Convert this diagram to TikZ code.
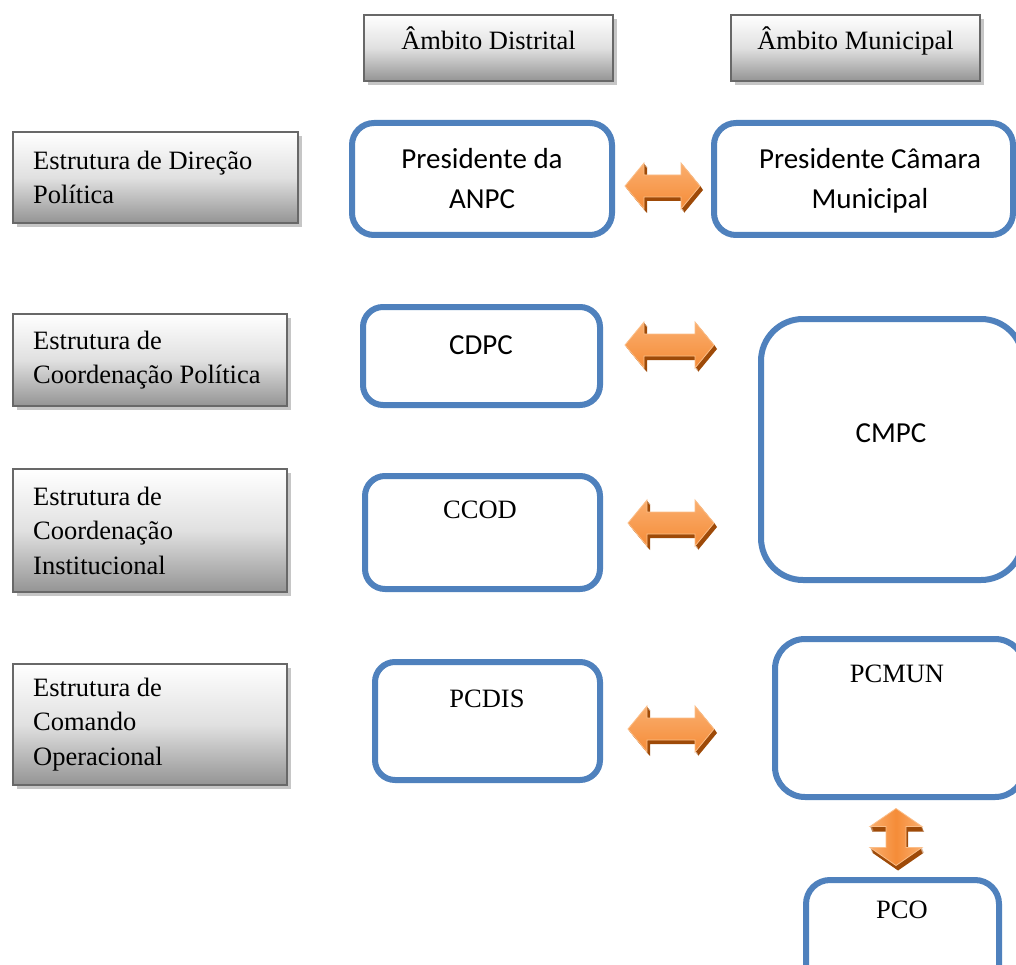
\documentclass[tikz,border=0pt]{standalone}
\usepackage{fontspec}
\setmainfont{Liberation Serif}
\newfontfamily\calib{Carlito}
\usetikzlibrary{shadows}

\definecolor{boxblue}{HTML}{4F81BD}
\definecolor{framegray}{HTML}{686868}
\definecolor{shadowgray}{HTML}{C6C6C6}
\definecolor{arrowlight}{HTML}{FAAE6E}
\definecolor{arrowmain}{HTML}{F58C38}
\definecolor{arrowdark}{HTML}{9E4A08}
\definecolor{arrowrim}{HTML}{FBBE88}

% outline of a double-headed arrow, horizontal and vertical, #1 = half length
\newcommand\hdblpath[1]{(-#1,0) -- (-#1+19,-23) -- (-#1+19,-11) -- (#1-19,-11) -- (#1-19,-23) -- (#1,0) -- (#1-19,23) -- (#1-19,11) -- (-#1+19,11) -- (-#1+19,23) -- cycle}
\newcommand\vdblpath[1]{(0,-#1) -- (26,-#1+18) -- (10,-#1+18) -- (10,#1-18) -- (26,#1-18) -- (0,#1) -- (-26,#1-18) -- (-10,#1-18) -- (-10,-#1+18) -- (-26,-#1+18) -- cycle}

\tikzset{
  x=1pt, y=-1pt,
  graybox/.style={draw=framegray, line width=2pt, anchor=north west,
    inner sep=0pt, outer sep=0pt,
    top color=white, bottom color=black!42, middle color=black!12,
    drop shadow={shadow xshift=4pt, shadow yshift=-4pt, fill=shadowgray, opacity=1}},
  bluebox/.style={draw=boxblue, line width=6pt, anchor=north west,
    inner sep=0pt, outer sep=0pt, fill=white},
  sertext/.style={font=\fontsize{26.5}{34.5}\selectfont, inner sep=0pt},
  caltext/.style={font=\calib\fontsize{29}{40}\selectfont, inner sep=0pt},
  pics/hdbl/.style={code={
    \foreach \k in {1,2,3,4} \fill[arrowdark, shift={(0.75*\k,\k)}] \hdblpath{#1};
    \shade[top color=arrowlight, bottom color=arrowmain, draw=arrowrim, line width=0.8pt] \hdblpath{#1};
  }},
  pics/vdbl/.style={code={
    \foreach \k in {1,2,3,4,5} \fill[arrowdark, shift={(0.4*\k,\k)}] \vdblpath{#1};
    \shade[left color=arrowlight, right color=arrowlight, middle color=arrowmain, draw=arrowrim, line width=0.8pt] \vdblpath{#1};
  }},
}

\begin{document}
\begin{tikzpicture}
\clip (0,0) rectangle (1016,965);
\fill[white] (0,0) rectangle (1016,965);

% column headings
\node[graybox, minimum width=249pt, minimum height=66pt] (hdis) at (364,15) {};
\node[graybox, minimum width=249pt, minimum height=66pt] (hmun) at (731,15) {};
\node[sertext, anchor=base] (hdist) at (hdis.center |- 0,50) {Âmbito Distrital};
\node[sertext, anchor=base] (hmunt) at (hmun.center |- 0,50) {Âmbito Municipal};

% row headings
\node[graybox, minimum width=285pt, minimum height=91pt] (g1) at (13,132) {};
\node[graybox, minimum width=274pt, minimum height=92pt] (g2) at (13,314) {};
\node[graybox, minimum width=274pt, minimum height=123pt] (g3) at (13,469) {};
\node[graybox, minimum width=274pt, minimum height=121pt] (g4) at (13,664) {};
\node[sertext, align=left, anchor=west] (g1t) at (33,0 |- g1.center) {Estrutura de Direção\\Política};
\node[sertext, align=left, anchor=west] (g2t) at (33,0 |- g2.center) {Estrutura de\\Coordenação Política};
\node[sertext, align=left, anchor=west] (g3t) at (33,0 |- g3.center) {Estrutura de\\Coordenação\\Institucional};
\node[sertext, align=left, anchor=west] (g4t) at (33,0 |- g4.center) {Estrutura de\\Comando\\Operacional};

% district bodies
\node[bluebox, rounded corners=22pt, minimum width=260pt, minimum height=112pt] (pA) at (352,123) {};
\node[bluebox, rounded corners=20pt, minimum width=237pt, minimum height=98pt] (cdpc) at (363,307) {};
\node[bluebox, rounded corners=20pt, minimum width=235pt, minimum height=113pt] (ccod) at (365,476) {};
\node[bluebox, rounded corners=20pt, minimum width=225pt, minimum height=118pt] (pcdis) at (375,662) {};

% municipal bodies
\node[bluebox, rounded corners=22pt, minimum width=299pt, minimum height=112pt] (pC) at (714,123) {};
\node[bluebox, rounded corners=42pt, minimum width=262pt, minimum height=261pt] (cmpc) at (761,319) {};
\node[bluebox, rounded corners=30pt, minimum width=250pt, minimum height=158pt] (pcmun) at (775,639) {};
\node[bluebox, rounded corners=24pt, minimum width=193pt, minimum height=120pt] (pco) at (806,880) {};

% labels of the bodies
\node[caltext, align=center] (pAt) at (482,179) {Presidente da\\ANPC};
\node[caltext, align=center] (pCt) at (870,181) {Presidente Câmara\\Municipal};
\node[caltext] (cdpct) at (481,345) {CDPC};
\node[caltext] (cmpct) at (891,433) {CMPC};
\node[sertext] (ccodt) at (480,510) {CCOD};
\node[sertext] (pcdist) at (487,699) {PCDIS};
\node[sertext] (pcmunt) at (897,674) {PCMUN};
\node[sertext] (pcot) at (902,910) {PCO};

% links between the levels
\coordinate (a1) at (662.5,186);
\coordinate (a2) at (669.5,345);
\coordinate (a3) at (671,523);
\coordinate (a4) at (671,729);
\coordinate (a5) at (896,837);
\pic at (a1) {hdbl=37.5};
\pic at (a2) {hdbl=44.5};
\pic at (a3) {hdbl=43};
\pic at (a4) {hdbl=43};
\pic at (a5) {vdbl=28.5};
\end{tikzpicture}
\end{document}
